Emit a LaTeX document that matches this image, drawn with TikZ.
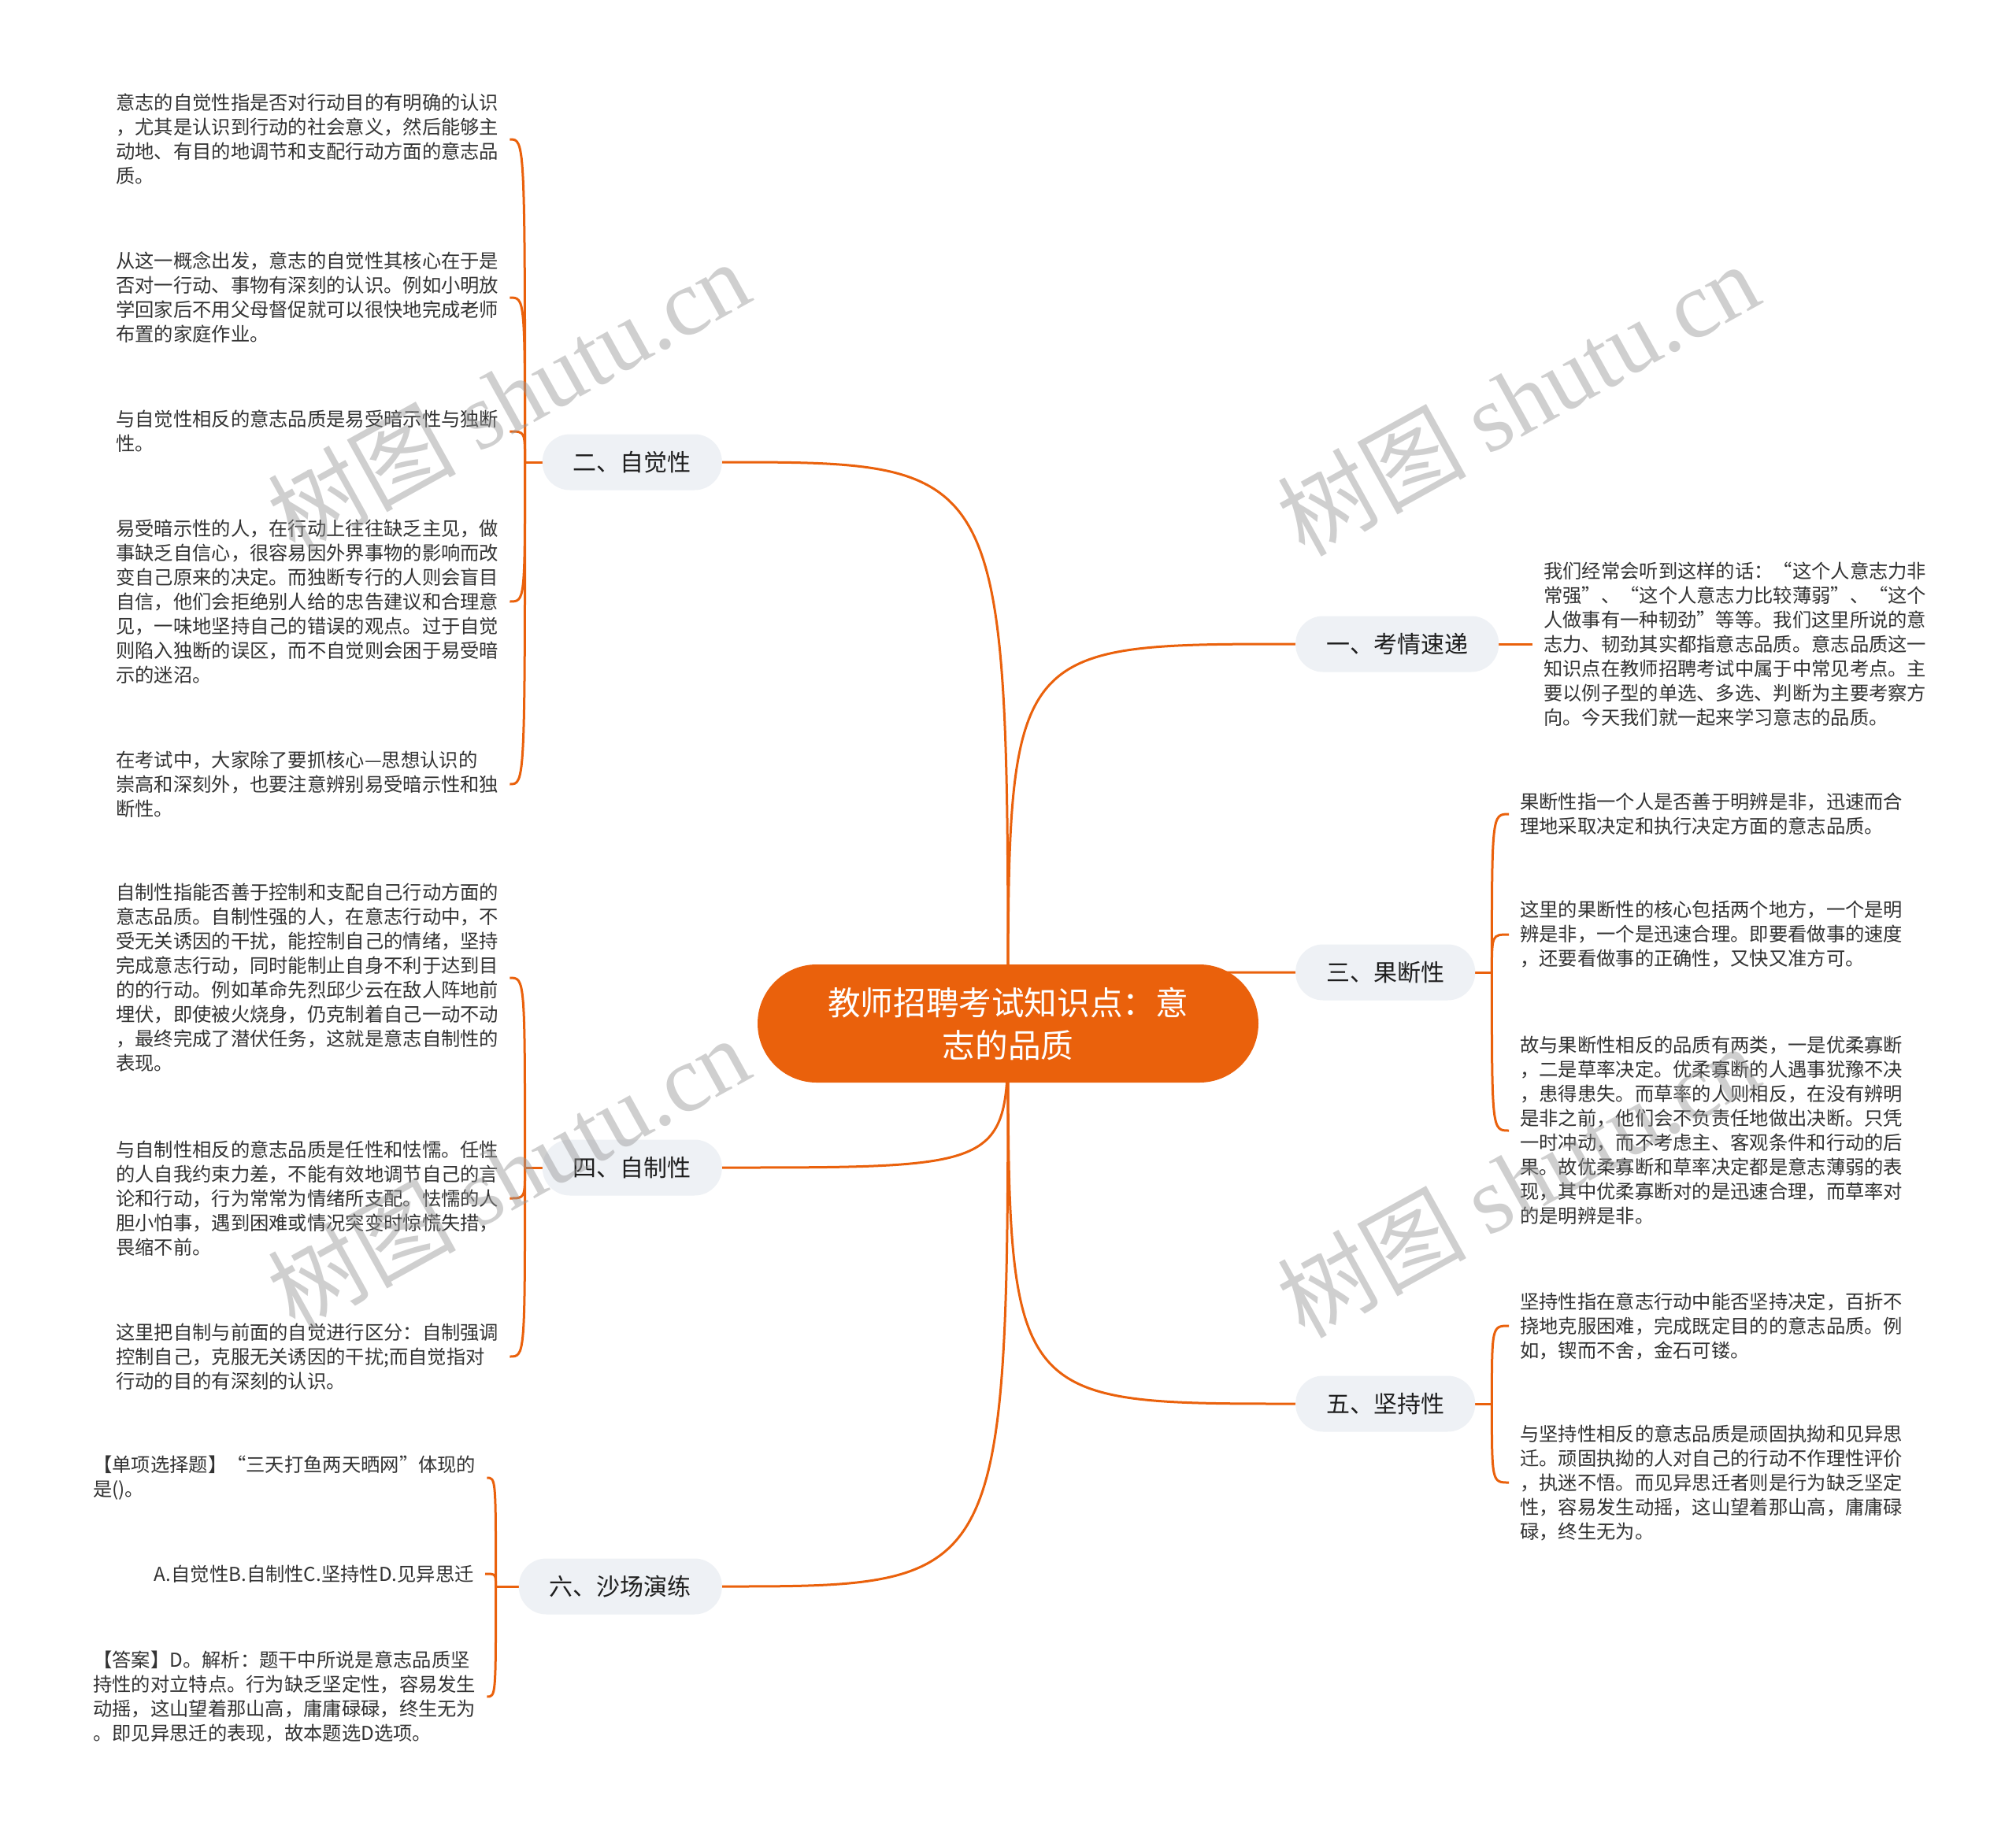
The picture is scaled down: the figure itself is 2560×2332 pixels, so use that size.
\documentclass[tikz,border=0pt]{standalone}
\usepackage{fontspec}
\setmainfont{Noto Sans CJK SC}
\newfontfamily\wmlatin{Liberation Serif}
\definecolor{org}{RGB}{234,97,12}
\definecolor{pill}{RGB}{238,241,245}
\definecolor{txt}{RGB}{51,51,51}
\definecolor{btxt}{RGB}{30,30,30}
\definecolor{wm}{RGB}{150,150,150}
\pgfdeclarelayer{paper}
\pgfdeclarelayer{bg}
\pgfdeclarelayer{fg}
\pgfsetlayers{paper,bg,main,fg}
\tikzset{
  leaf/.style={font=\fontsize{24.3}{31}\selectfont, text=txt, align=left, inner xsep=14pt, inner ysep=4pt},
  branch/.style={rounded corners=35pt, fill=pill, minimum height=71pt, inner xsep=39pt,
                 font=\fontsize{30}{36}\selectfont, text=btxt},
  central/.style={rounded corners=75pt, fill=org, minimum width=636pt, minimum height=150pt,
                 font=\fontsize{41.6}{54}\selectfont, text=white, align=center},
  conn/.style={draw=org, line width=3pt},
  wmk/.style={text=wm, opacity=0.45, rotate=29, font=\fontsize{120}{120}\selectfont}
}
\begin{document}
\begin{tikzpicture}[x=1pt,y=1pt]
\begin{pgfonlayer}{paper}
  \fill[white] (0,0) rectangle (2560,-2332);
\end{pgfonlayer}
\useasboundingbox (0,0) rectangle (2560,-2332);

% central
\node[central] (c) at (1280,-1300) {教师招聘考试知识点：意\\志的品质};

% branches
\node[branch, anchor=east] (b2) at (917,-587) {二、自觉性};
\node[branch, anchor=east] (b4) at (917,-1483) {四、自制性};
\node[branch, anchor=east] (b6) at (917,-2015) {六、沙场演练};
\node[branch, anchor=west] (b1) at (1645,-818) {一、考情速递};
\node[branch, anchor=west] (b3) at (1645,-1235) {三、果断性};
\node[branch, anchor=west] (b5) at (1645,-1783) {五、坚持性};

% left leaves (二)
\node[leaf, anchor=west] (l1) at (133,-177) {意志的自觉性指是否对行动目的有明确的认识\\%
，尤其是认识到行动的社会意义，然后能够主\\%
动地、有目的地调节和支配行动方面的意志品\\%
质。};
\node[leaf, anchor=west] (l2) at (133,-378) {从这一概念出发，意志的自觉性其核心在于是\\%
否对一行动、事物有深刻的认识。例如小明放\\%
学回家后不用父母督促就可以很快地完成老师\\%
布置的家庭作业。};
\node[leaf, anchor=west] (l3) at (133,-548) {与自觉性相反的意志品质是易受暗示性与独断\\%
性。};
\node[leaf, anchor=west] (l4) at (133,-764) {易受暗示性的人，在行动上往往缺乏主见，做\\%
事缺乏自信心，很容易因外界事物的影响而改\\%
变自己原来的决定。而独断专行的人则会盲目\\%
自信，他们会拒绝别人给的忠告建议和合理意\\%
见，一味地坚持自己的错误的观点。过于自觉\\%
则陷入独断的误区，而不自觉则会困于易受暗\\%
示的迷沼。};
\node[leaf, anchor=west] (l5) at (133,-996) {在考试中，大家除了要抓核心—思想认识的\\%
崇高和深刻外，也要注意辨别易受暗示性和独\\%
断性。};

% left leaves (四)
\node[leaf, anchor=west] (l6) at (133,-1242) {自制性指能否善于控制和支配自己行动方面的\\%
意志品质。自制性强的人，在意志行动中，不\\%
受无关诱因的干扰，能控制自己的情绪，坚持\\%
完成意志行动，同时能制止自身不利于达到目\\%
的的行动。例如革命先烈邱少云在敌人阵地前\\%
埋伏，即使被火烧身，仍克制着自己一动不动\\%
，最终完成了潜伏任务，这就是意志自制性的\\%
表现。};
\node[leaf, anchor=west] (l7) at (133,-1522) {与自制性相反的意志品质是任性和怯懦。任性\\%
的人自我约束力差，不能有效地调节自己的言\\%
论和行动，行为常常为情绪所支配。怯懦的人\\%
胆小怕事，遇到困难或情况突变时惊慌失措，\\%
畏缩不前。};
\node[leaf, anchor=west] (l8) at (133,-1723) {这里把自制与前面的自觉进行区分：自制强调\\%
控制自己，克服无关诱因的干扰;而自觉指对\\%
行动的目的有深刻的认识。};

% left leaves (六)
\node[leaf, anchor=west] (l9) at (104,-1877) {【单项选择题】“三天打鱼两天晒网”体现的\\%
是()。};
\node[leaf, anchor=east] (l10) at (616,-1999) {A.自觉性B.自制性C.坚持性D.见异思迁};
\node[leaf, anchor=west] (l11) at (104,-2155) {【答案】D。解析：题干中所说是意志品质坚\\%
持性的对立特点。行为缺乏坚定性，容易发生\\%
动摇，这山望着那山高，庸庸碌碌，终生无为\\%
。即见异思迁的表现，故本题选D选项。};

% right leaves
\node[leaf, anchor=west] (l12) at (1946,-818) {我们经常会听到这样的话：“这个人意志力非\\%
常强”、“这个人意志力比较薄弱”、“这个\\%
人做事有一种韧劲”等等。我们这里所说的意\\%
志力、韧劲其实都指意志品质。意志品质这一\\%
知识点在教师招聘考试中属于中常见考点。主\\%
要以例子型的单选、多选、判断为主要考察方\\%
向。今天我们就一起来学习意志的品质。};
\node[leaf, anchor=west] (l13) at (1916,-1034) {果断性指一个人是否善于明辨是非，迅速而合\\%
理地采取决定和执行决定方面的意志品质。};
\node[leaf, anchor=west] (l14) at (1916,-1187) {这里的果断性的核心包括两个地方，一个是明\\%
辨是非，一个是迅速合理。即要看做事的速度\\%
，还要看做事的正确性，又快又准方可。};
\node[leaf, anchor=west] (l15) at (1916,-1436) {故与果断性相反的品质有两类，一是优柔寡断\\%
，二是草率决定。优柔寡断的人遇事犹豫不决\\%
，患得患失。而草率的人则相反，在没有辨明\\%
是非之前，他们会不负责任地做出决断。只凭\\%
一时冲动，而不考虑主、客观条件和行动的后\\%
果。故优柔寡断和草率决定都是意志薄弱的表\\%
现，其中优柔寡断对的是迅速合理，而草率对\\%
的是明辨是非。};
\node[leaf, anchor=west] (l16) at (1916,-1684) {坚持性指在意志行动中能否坚持决定，百折不\\%
挠地克服困难，完成既定目的的意志品质。例\\%
如，锲而不舍，金石可镂。};
\node[leaf, anchor=west] (l17) at (1916,-1883) {与坚持性相反的意志品质是顽固执拗和见异思\\%
迁。顽固执拗的人对自己的行动不作理性评价\\%
，执迷不悟。而见异思迁者则是行为缺乏坚定\\%
性，容易发生动摇，这山望着那山高，庸庸碌\\%
碌，终生无为。};

% junctions
\coordinate (j2) at ([xshift=-22pt]b2.west);
\coordinate (j4) at ([xshift=-22pt]b4.west);
\coordinate (j6) at ([xshift=-29pt]b6.west);
\coordinate (j3) at ([xshift=21pt]b3.east);
\coordinate (j5) at ([xshift=21pt]b5.east);

\begin{pgfonlayer}{bg}
  % center to branches
  \foreach \b in {b2,b4,b6}{
    \draw[conn] (c.center) .. controls (c.center |- \b.east) .. (\b.east);
  }
  \foreach \b in {b1,b3,b5}{
    \draw[conn] (c.center) .. controls (c.center |- \b.west) .. (\b.west);
  }
  % branch stubs
  \draw[conn] (b2.west) -- (j2);
  \draw[conn] (b4.west) -- (j4);
  \draw[conn] (b6.west) -- (j6);
  \draw[conn] (b3.east) -- (j3);
  \draw[conn] (b5.east) -- (j5);
  \draw[conn] (b1.east) -- (l12.west);
  % braces
  \foreach \l in {l1,l2,l3,l4,l5}{
    \draw[conn] (j2) .. controls (j2 |- \l.east) .. (\l.east);
  }
  \foreach \l in {l6,l7,l8}{
    \draw[conn] (j4) .. controls (j4 |- \l.east) .. (\l.east);
  }
  \foreach \l in {l9,l10,l11}{
    \draw[conn] (j6) .. controls (j6 |- \l.east) .. (\l.east);
  }
  \foreach \l in {l13,l14,l15}{
    \draw[conn] (j3) .. controls (j3 |- \l.west) .. (\l.west);
  }
  \foreach \l in {l16,l17}{
    \draw[conn] (j5) .. controls (j5 |- \l.west) .. (\l.west);
  }
\end{pgfonlayer}

% watermarks
\begin{pgfonlayer}{fg}
  \node[wmk] (w1) at (645,-503) {树图 {\wmlatin shutu.cn}};
  \node[wmk] (w2) at (1927,-506) {树图 {\wmlatin shutu.cn}};
  \node[wmk] (w3) at (645,-1489) {树图 {\wmlatin shutu.cn}};
  \node[wmk] (w4) at (1927,-1499) {树图 {\wmlatin shutu.cn}};
\end{pgfonlayer}
\end{tikzpicture}
\end{document}
